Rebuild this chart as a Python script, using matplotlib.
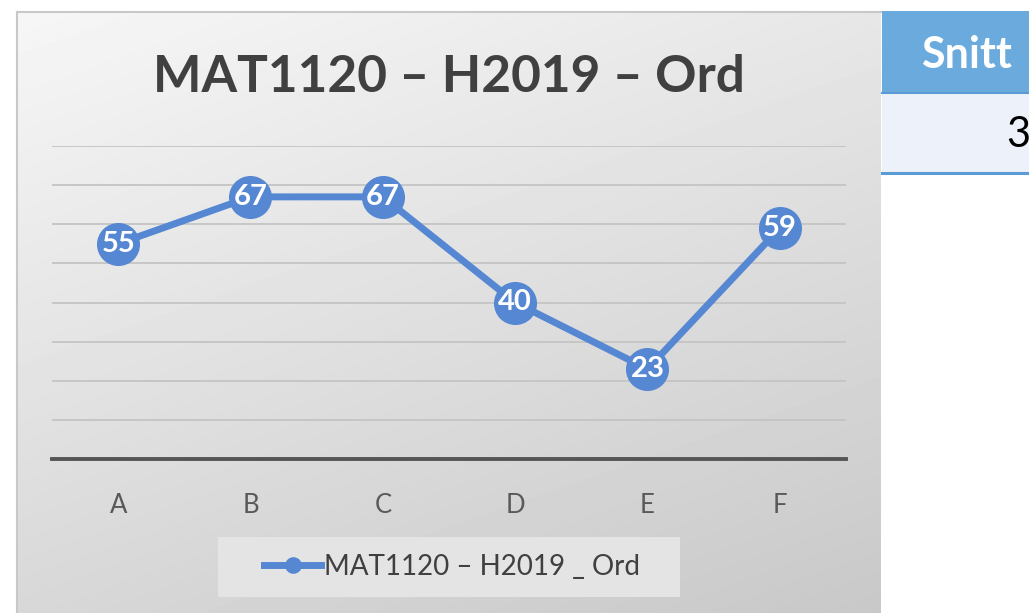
import matplotlib.pyplot as plt
import numpy as np
from matplotlib.patches import Rectangle

categories = ["A", "B", "C", "D", "E", "F"]
values = [55, 67, 67, 40, 23, 59]
series_name = "MAT1120 – H2019 _ Ord"
title = "MAT1120 – H2019 – Ord"
table_header = "Snitt"
table_value = "3"

W, H = 1029, 613
BLUE = "#5587D2"


def fx(px):
    return px / W


def fy(py):
    return 1 - py / H


def main() -> None:
    plt.rcParams["font.family"] = ["Lato", "DejaVu Sans"]
    fig = plt.figure(figsize=(W / 100, H / 100), dpi=100)
    fig.patch.set_facecolor("white")

    # chart panel with gradient background
    x0, x1, y0, y1 = 17, 881, 12, 613
    bg = fig.add_axes([fx(x0), fy(y1), fx(x1 - x0), (y1 - y0) / H])
    gx, gy = np.meshgrid(np.linspace(0, 1, 200), np.linspace(0, 1, 200))
    shade = 0.965 - 0.12 * gy - 0.06 * gx
    bg.imshow(shade, cmap="gray", vmin=0, vmax=1, aspect="auto",
              extent=[0, 1, 1, 0], interpolation="bilinear")
    bg.set_xlim(0, 1)
    bg.set_ylim(1, 0)
    bg.set_xticks([])
    bg.set_yticks([])
    for side in ["top", "left"]:
        bg.spines[side].set_color("#C8C8C8")
        bg.spines[side].set_linewidth(1.5)
    for side in ["right", "bottom"]:
        bg.spines[side].set_visible(False)

    # table on the right (cut off by the picture edge, as in the source)
    fig.patches.append(Rectangle((fx(882), fy(93)), fx(W - 882), (93 - 11) / H,
                                 transform=fig.transFigure, facecolor="#6AAADC",
                                 edgecolor="none", zorder=1))
    fig.patches.append(Rectangle((fx(882), fy(173)), fx(W - 882), (173 - 93) / H,
                                 transform=fig.transFigure, facecolor="#EDF2FA",
                                 edgecolor="none", zorder=1))
    fig.lines.append(plt.Line2D([fx(882), 1], [fy(173), fy(173)],
                                transform=fig.transFigure, color="#5B9BD5", lw=2.2))
    fig.lines.append(plt.Line2D([fx(882), 1], [fy(93), fy(93)],
                                transform=fig.transFigure, color="#5B9BD5", lw=1.5))
    fig.text(fx(921), fy(55), table_header, color="white", fontsize=31,
             fontweight="bold", ha="left", va="center")
    fig.text(fx(1006), fy(135), table_value, color="black", fontsize=30,
             ha="left", va="center")

    fig.text(fx(449), fy(78), title, fontsize=37, fontweight="bold",
             color="#404040", ha="center", va="center")

    # legend box drawn separately so its padding can match
    fig.patches.append(Rectangle((fx(218), fy(597)), fx(680 - 218), (597 - 537) / H,
                                 transform=fig.transFigure, facecolor="#E4E4E4",
                                 edgecolor="none", zorder=1))

    # plot area
    ax = fig.add_axes([fx(52), fy(459), fx(846 - 52), (459 - 146) / H])
    ax.set_zorder(2)
    ax.set_facecolor("none")
    x = np.arange(len(categories))
    ax.set_xlim(-0.5, len(categories) - 0.5)
    ax.set_ylim(0, 80)
    ax.set_yticks(np.arange(10, 81, 10))
    ax.yaxis.grid(True, color="#C4C4C4", lw=1.3)
    ax.set_axisbelow(True)
    ax.tick_params(axis="y", left=False, labelleft=False)
    ax.tick_params(axis="x", bottom=False, labelsize=18.5, labelcolor="#595959", pad=21)
    ax.set_xticks(x)
    ax.set_xticklabels(categories)
    for side in ["top", "left", "right"]:
        ax.spines[side].set_visible(False)
    ax.spines["bottom"].set_color("#555555")
    ax.spines["bottom"].set_linewidth(2.8)

    ax.plot(x, values, color=BLUE, lw=5, marker="o", markersize=31,
            markeredgewidth=0, label=series_name, clip_on=False, zorder=3)
    for xi, v in zip(x, values):
        ax.text(xi, v, str(v), color="white", fontsize=21, fontweight="bold",
                ha="center", va="center", zorder=4)

    leg = ax.legend(loc="center", bbox_to_anchor=(fx(452), fy(567)),
                    bbox_transform=fig.transFigure, fontsize=20, frameon=False,
                    handlelength=2.05, borderpad=0, handletextpad=0.1,
                    borderaxespad=0)
    for t in leg.get_texts():
        t.set_color("#404040")
    for h in leg.legend_handles:
        h.set_markersize(12)
        h.set_markeredgewidth(0)

    fig.savefig("out.png", dpi=100)
    plt.close(fig)


if __name__ == "__main__":
    main()
